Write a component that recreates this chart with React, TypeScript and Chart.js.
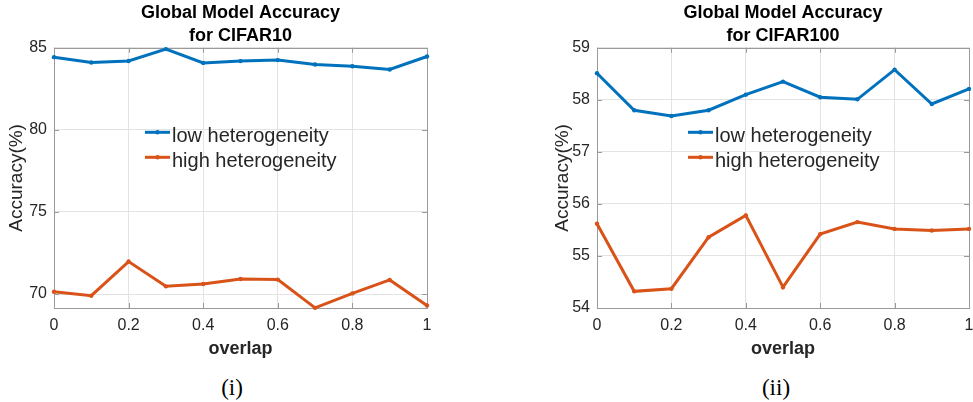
import React, { useEffect, useRef } from "react";
import { Chart, registerables } from "chart.js";

Chart.register(...registerables);

// ---------- data ----------
const overlap = [0, 0.1, 0.2, 0.3, 0.4, 0.5, 0.6, 0.7, 0.8, 0.9, 1];
const xTicks = [0, 0.2, 0.4, 0.6, 0.8, 1];
const seriesNames = ["low heterogeneity", "high heterogeneity"];

const cifar10Title = ["Global Model Accuracy", "for CIFAR10"];
const cifar10Low = [84.43, 84.1, 84.2, 84.92, 84.08, 84.19, 84.25, 83.98, 83.88, 83.68, 84.47];
const cifar10High = [70.14, 69.9, 71.98, 70.47, 70.61, 70.92, 70.88, 69.16, 70.04, 70.86, 69.3];
const cifar10YTicks = [70, 75, 80, 85];
const cifar10YRange = [69.15, 85];

const cifar100Title = ["Global Model Accuracy", "for CIFAR100"];
const cifar100Low = [58.51, 57.8, 57.69, 57.8, 58.1, 58.35, 58.05, 58.01, 58.58, 57.92, 58.21];
const cifar100High = [55.62, 54.32, 54.37, 55.36, 55.78, 54.4, 55.42, 55.65, 55.52, 55.49, 55.52];
const cifar100YTicks = [54, 55, 56, 57, 58, 59];
const cifar100YRange = [54, 59];

const xTitle = "overlap";
const yTitle = "Accuracy(%)";

// ---------- styles ----------
const FONT = "'Liberation Sans', Arial, Helvetica, sans-serif";
const TEXT = "#262626";
const GRID = "#e3e3e3";
const BOX = "#9a9a9a";
const BLUE = "#0072BD";
const ORANGE = "#D95319";

const boxPlugin = {
  id: "matlabBox",
  beforeDatasetsDraw(chart: any) {
    const { ctx, chartArea, scales } = chart;
    const { left, right, top, bottom } = chartArea;
    ctx.save();
    ctx.strokeStyle = BOX;
    ctx.lineWidth = 1;
    ctx.strokeRect(Math.round(left) + 0.5, Math.round(top) + 0.5, Math.round(right - left), Math.round(bottom - top));
    ctx.beginPath();
    const tl = 5;
    scales.y.ticks.forEach((t: any) => {
      const y = Math.round(scales.y.getPixelForValue(t.value)) + 0.5;
      ctx.moveTo(left, y);
      ctx.lineTo(left + tl, y);
      ctx.moveTo(right, y);
      ctx.lineTo(right - tl, y);
    });
    scales.x.ticks.forEach((t: any) => {
      const x = Math.round(scales.x.getPixelForValue(t.value)) + 0.5;
      ctx.moveTo(x, bottom);
      ctx.lineTo(x, bottom - tl);
      ctx.moveTo(x, top);
      ctx.lineTo(x, top + tl);
    });
    ctx.stroke();
    ctx.restore();
  },
};

const legendPlugin = {
  id: "insideLegend",
  afterDatasetsDraw(chart: any) {
    const { ctx, chartArea } = chart;
    const x0 = chartArea.left + 91;
    const y0 = chartArea.top + 84.5;
    chart.data.datasets.forEach((ds: any, i: number) => {
      const y = y0 + i * 25;
      ctx.save();
      ctx.strokeStyle = ds.borderColor;
      ctx.lineWidth = 3;
      ctx.beginPath();
      ctx.moveTo(x0, y);
      ctx.lineTo(x0 + 25, y);
      ctx.stroke();
      ctx.fillStyle = ds.borderColor;
      ctx.beginPath();
      ctx.arc(x0 + 12.5, y, 2.2, 0, Math.PI * 2);
      ctx.fill();
      ctx.fillStyle = TEXT;
      ctx.font = `20px ${FONT}`;
      ctx.textBaseline = "alphabetic";
      ctx.textAlign = "left";
      ctx.fillText(ds.label, x0 + 27, y + 9.5);
      ctx.restore();
    });
  },
};

type PanelProps = {
  left: number;
  width: number;
  axisWidth: number;
  padRight: number;
  title: string[];
  low: number[];
  high: number[];
  yTicks: number[];
  yRange: number[];
};

function Panel(p: PanelProps) {
  const ref = useRef<HTMLCanvasElement>(null);
  useEffect(() => {
    if (!ref.current) return;
    const mk = (vals: number[]) => overlap.map((x, i) => ({ x, y: vals[i] }));
    const dsStyle = (color: string) => ({
      borderColor: color,
      backgroundColor: color,
      pointBackgroundColor: color,
      pointBorderColor: color,
      borderWidth: 3,
      pointRadius: 2.2,
      pointBorderWidth: 0,
      tension: 0,
      clip: false as any,
    });
    const chart = new Chart(ref.current, {
      type: "line",
      data: {
        datasets: [
          { label: seriesNames[0], data: mk(p.low), ...dsStyle(BLUE) },
          { label: seriesNames[1], data: mk(p.high), ...dsStyle(ORANGE) },
        ],
      },
      options: {
        animation: false,
        responsive: false,
        maintainAspectRatio: false,
        layout: { padding: { left: 0, right: p.padRight, top: 0, bottom: 0 } },
        plugins: {
          legend: { display: false },
          tooltip: { enabled: false },
          title: {
            display: true,
            text: p.title,
            fullSize: false,
            color: "#000",
            font: { family: FONT, size: 18, weight: "bold", lineHeight: 1.3 },
            padding: { top: 1, bottom: 0 },
          },
        },
        scales: {
          x: {
            type: "linear",
            min: 0,
            max: 1,
            afterBuildTicks: (s: any) => {
              s.ticks = xTicks.map((v) => ({ value: v }));
            },
            afterFit: (s: any) => {
              s.height = 57;
              s.paddingLeft = 0;
              s.paddingRight = 0;
            },
            grid: { color: GRID, drawTicks: false },
            border: { display: false },
            ticks: {
              padding: 8,
              color: TEXT,
              autoSkip: false,
              maxRotation: 0,
              font: { family: FONT, size: 16 },
              callback: (v: any) => String(Number(Number(v).toFixed(1))),
            },
            title: {
              display: true,
              text: xTitle,
              color: TEXT,
              font: { family: FONT, size: 18, weight: "bold", lineHeight: 1.2 },
              padding: { top: 0, bottom: 5 },
            },
          },
          y: {
            type: "linear",
            min: p.yRange[0],
            max: p.yRange[1],
            afterBuildTicks: (s: any) => {
              s.ticks = p.yTicks.map((v) => ({ value: v }));
            },
            afterFit: (s: any) => {
              s.width = p.axisWidth;
            },
            grid: { color: GRID, drawTicks: false },
            border: { display: false },
            ticks: {
              padding: 7,
              color: TEXT,
              font: { family: FONT, size: 16 },
              callback: (v: any) => String(v),
            },
            title: {
              display: true,
              text: yTitle,
              color: TEXT,
              font: { family: FONT, size: 19, lineHeight: 1.2 },
              padding: { top: 5, bottom: 0 },
            },
          },
        },
      } as any,
      plugins: [boxPlugin, legendPlugin],
    });
    return () => chart.destroy();
  }, []);
  return (
    <canvas
      ref={ref}
      width={p.width}
      height={365}
      style={{ position: "absolute", left: p.left, top: 0, width: p.width, height: 365 }}
    />
  );
}

const captionStyle = (cx: number): React.CSSProperties => ({
  position: "absolute",
  left: cx - 50,
  width: 100,
  top: 375,
  textAlign: "center",
  fontFamily: "'Liberation Serif', 'Times New Roman', serif",
  fontSize: 23,
  lineHeight: "26px",
  color: "#000",
});

export default function App() {
  return (
    <div
      style={{
        position: "absolute",
        left: 0,
        top: 0,
        width: 973,
        height: 402,
        background: "#fff",
        overflow: "hidden",
      }}
    >
      <Panel
        left={0}
        width={481}
        axisWidth={54}
        padRight={54}
        title={cifar10Title}
        low={cifar10Low}
        high={cifar10High}
        yTicks={cifar10YTicks}
        yRange={cifar10YRange}
      />
      <Panel
        left={546}
        width={427}
        axisWidth={51}
        padRight={2}
        title={cifar100Title}
        low={cifar100Low}
        high={cifar100High}
        yTicks={cifar100YTicks}
        yRange={cifar100YRange}
      />
      <div style={captionStyle(232)}>(i)</div>
      <div style={captionStyle(776)}>(ii)</div>
    </div>
  );
}
